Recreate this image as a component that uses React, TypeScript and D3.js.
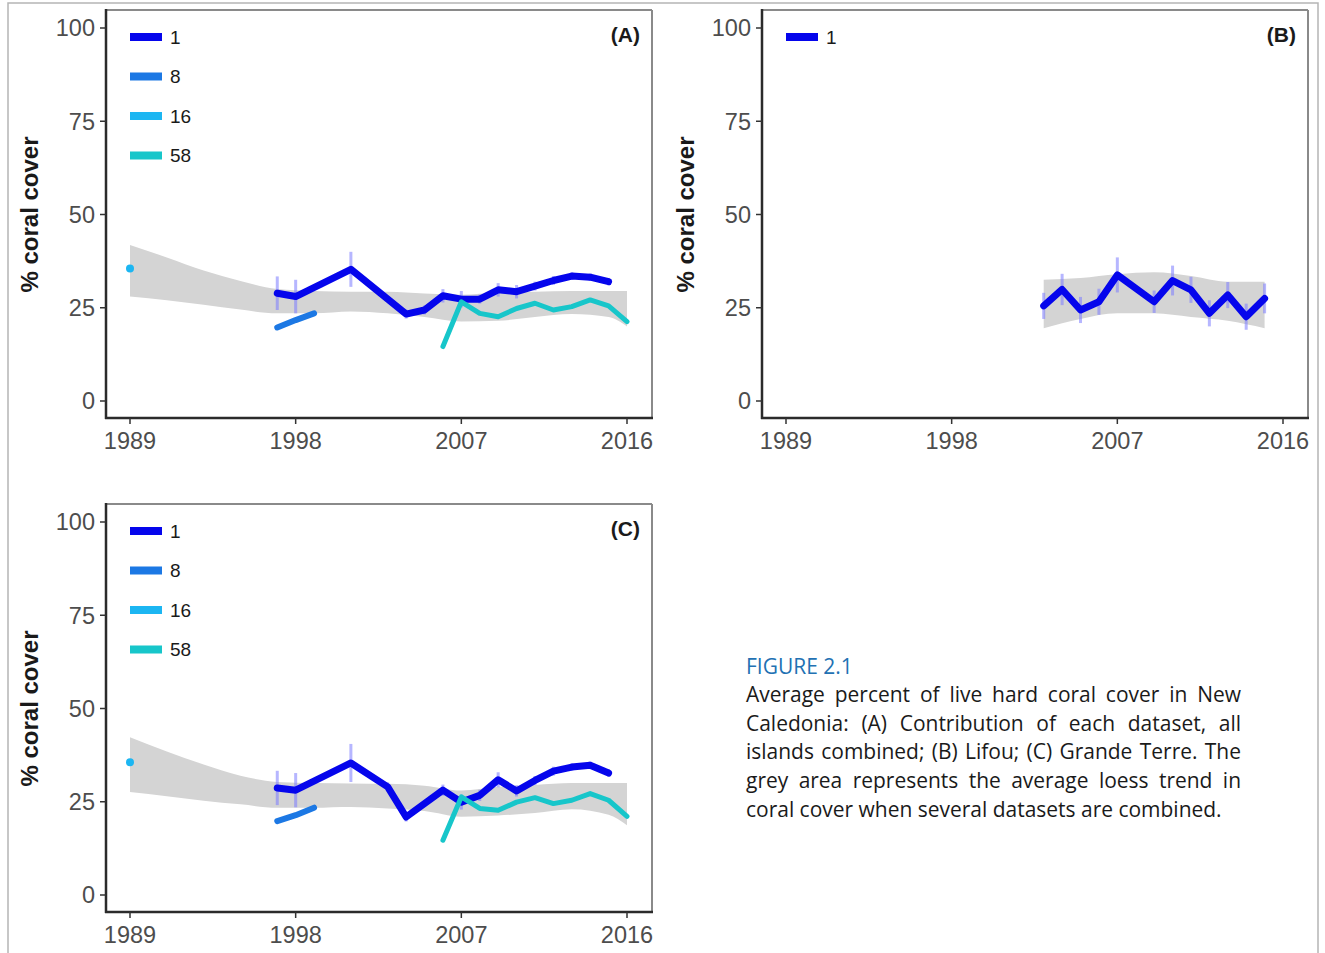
import React from 'react'
import * as d3 from 'd3'

const TICK_YEARS = [1989, 1998, 2007, 2016]
const TICK_COVER = [0, 25, 50, 75, 100]
const LEGEND_KEYS = ['1', '8', '16', '58']
const COLORS: { [k: string]: string } = { '1': '#0505EC', '8': '#1C78E4', '16': '#1CB6F2', '58': '#17C6CA' }

// panel A: all islands
const a1Years = [1997, 1998, 2001, 2004, 2005, 2006, 2007, 2008, 2009, 2010, 2011, 2012, 2013, 2014, 2015]
const a1Cover = [28.9, 28.0, 35.3, 23.3, 24.4, 28.2, 27.3, 27.3, 29.8, 29.3, 30.8, 32.3, 33.5, 33.2, 32.0]
const a1Err = [4.5, 4.5, 4.7, 1.2, 1.2, 1.8, 2.2, 1.2, 1.8, 1.8, 1.2, 1.2, 1, 1, 1]
const a8Years = [1997, 1998, 1999]
const a8Cover = [19.7, 21.7, 23.5]
const a16Years = [1989]
const a16Cover = [35.5]
const a58Years = [2006, 2007, 2008, 2009, 2010, 2011, 2012, 2013, 2014, 2015, 2016]
const a58Cover = [14.6, 26.6, 23.5, 22.6, 24.8, 26.2, 24.4, 25.3, 27.1, 25.5, 21.3]
const aBandYears = [1989, 1991, 1993, 1995, 1997, 1999, 2001, 2003, 2005, 2007, 2009, 2011, 2013, 2015, 2016]
const aBandHi = [41.8, 38.5, 35, 32.2, 30, 29.5, 29.3, 29.3, 28.8, 28.5, 29, 29.3, 29.5, 29.5, 29.5]
const aBandLo = [28, 27, 25.8, 24.5, 23.5, 23.5, 24, 23.5, 22.5, 21.3, 21.5, 22.5, 23.3, 22.5, 20]

// panel B: Lifou
const b1Years = [2003, 2004, 2005, 2006, 2007, 2009, 2010, 2011, 2012, 2013, 2014, 2015]
const b1Cover = [25.5, 29.9, 24.4, 26.6, 33.8, 26.6, 32.3, 29.8, 23.5, 28.4, 22.6, 27.5]
const b1Err = [3.5, 4.2, 3.5, 3.5, 4.7, 3, 4, 3.5, 3.5, 3.5, 3.5, 4]
const bBandYears = [2003, 2005, 2007, 2009, 2011, 2013, 2015]
const bBandHi = [32.5, 33, 34, 34.5, 33.5, 32, 32]
const bBandLo = [19.5, 22, 23.5, 23.5, 22.5, 21.5, 19.5]

// panel C: Grande Terre
const c1Years = [1997, 1998, 2001, 2003, 2004, 2006, 2007, 2008, 2009, 2010, 2011, 2012, 2013, 2014, 2015]
const c1Cover = [28.7, 28.1, 35.4, 29.0, 20.9, 28.1, 24.9, 26.7, 30.9, 27.9, 30.7, 33.2, 34.3, 34.8, 32.7]
const c1Err = [4.6, 4.6, 5.1, 1.2, 1.2, 1.5, 2, 1.5, 2, 1.5, 1.2, 1.2, 1, 1, 1]
const c8Years = [1997, 1998, 1999]
const c8Cover = [19.8, 21.4, 23.4]
const c16Years = [1989]
const c16Cover = [35.6]
const c58Years = [2006, 2007, 2008, 2009, 2010, 2011, 2012, 2013, 2014, 2015, 2016]
const c58Cover = [14.7, 26.3, 23.2, 22.7, 24.9, 26.1, 24.5, 25.4, 27.2, 25.4, 21.1]
const cBandYears = [1989, 1991, 1993, 1995, 1997, 1999, 2001, 2003, 2005, 2007, 2009, 2011, 2013, 2015, 2016]
const cBandHi = [42.3, 38.5, 35, 32, 30.3, 30, 29.9, 29.8, 29.3, 28, 29, 29.5, 30, 30, 30]
const cBandLo = [27.6, 26.5, 25.3, 24.3, 23.4, 23.4, 23.6, 23.2, 22.5, 21, 21.3, 22, 23, 21.5, 18.7]

const CAPTION_TITLE = 'FIGURE 2.1'
const CAPTION_LINES = [
  'Average percent of live hard coral cover in New',
  'Caledonia: (A) Contribution of each dataset, all',
  'islands combined; (B) Lifou; (C) Grande Terre. The',
  'grey area represents the average loess trend in',
  'coral cover when several datasets are combined.',
]

const AXIS_FONT = '"Liberation Sans", Arial, sans-serif'
const CAPTION_FAMILY = '"Open Sans"'

type Series = { key: string; years: number[]; cover: number[]; err?: number[] }

type PanelProps = {
  left: number
  top: number
  tag: string
  legend: string[]
  series: Series[]
  band: { years: number[]; hi: number[]; lo: number[] }
}

function Panel({ left, top, tag, legend, series, band }: PanelProps) {
  const right = left + 546
  const bottom = top + 408
  const x = d3.scaleLinear().domain([1989, 2016]).range([left + 24, right - 25])
  const y = d3.scaleLinear().domain([0, 100]).range([bottom - 17, top + 18])

  const bandData = band.years.map((yr, i) => ({ yr, hi: band.hi[i], lo: band.lo[i] }))
  const areaGen = d3
    .area<{ yr: number; hi: number; lo: number }>()
    .x((d) => x(d.yr))
    .y0((d) => y(d.lo))
    .y1((d) => y(d.hi))
    .curve(d3.curveMonotoneX)

  const lineGen = d3
    .line<[number, number]>()
    .x((d) => x(d[0]))
    .y((d) => y(d[1]))

  const widths: { [k: string]: number } = { '1': 7, '8': 6, '16': 6, '58': 5 }

  return (
    <g>
      {/* frame */}
      <line x1={left} x2={right} y1={top} y2={top} stroke="#8a8a8a" strokeWidth={2} />
      <line x1={right} x2={right} y1={top} y2={bottom} stroke="#8a8a8a" strokeWidth={2} />
      <path d={areaGen(bandData) || ''} fill="#d4d4d4" />

      {/* error bars */}
      {series.map((s) =>
        s.err
          ? s.years.map((yr, i) => (
              <line
                key={s.key + 'e' + i}
                x1={x(yr)}
                x2={x(yr)}
                y1={y(s.cover[i] - s.err![i])}
                y2={y(s.cover[i] + s.err![i])}
                stroke="#7a7aff"
                strokeOpacity={0.55}
                strokeWidth={3}
              />
            ))
          : null
      )}

      {series.map((s) =>
        s.years.length === 1 ? (
          <circle key={s.key} cx={x(s.years[0])} cy={y(s.cover[0])} r={4} fill={COLORS[s.key]} />
        ) : (
          <path
            key={s.key}
            d={lineGen(s.years.map((yr, i) => [yr, s.cover[i]] as [number, number])) || ''}
            fill="none"
            stroke={COLORS[s.key]}
            strokeWidth={widths[s.key]}
            strokeLinejoin="round"
            strokeLinecap="round"
          />
        )
      )}

      {/* axes */}
      <line x1={left} x2={left} y1={top - 1} y2={bottom + 1} stroke="#2b2b2b" strokeWidth={2.5} />
      <line x1={left - 1} x2={right + 1} y1={bottom} y2={bottom} stroke="#2b2b2b" strokeWidth={2.5} />
      {TICK_COVER.map((v) => (
        <g key={'y' + v}>
          <line x1={left - 6} x2={left} y1={y(v)} y2={y(v)} stroke="#333" strokeWidth={1.5} />
          <text
            x={left - 11}
            y={y(v)}
            dy="0.36em"
            textAnchor="end"
            fontSize={23.5}
            fill="#4d4d4d"
            fontFamily={AXIS_FONT}
          >
            {v}
          </text>
        </g>
      ))}
      {TICK_YEARS.map((yr) => (
        <g key={'x' + yr}>
          <line x1={x(yr)} x2={x(yr)} y1={bottom} y2={bottom + 6} stroke="#333" strokeWidth={1.5} />
          <text
            x={x(yr)}
            y={bottom + 31}
            textAnchor="middle"
            fontSize={23.5}
            fill="#4d4d4d"
            fontFamily={AXIS_FONT}
          >
            {yr}
          </text>
        </g>
      ))}
      <text
        transform={`translate(${left - 68},${(y(0) + y(100)) / 2}) rotate(-90)`}
        textAnchor="middle"
        fontSize={24}
        fontWeight="bold"
        fill="#1a1a1a"
        fontFamily={AXIS_FONT}
      >
        % coral cover
      </text>

      {/* legend */}
      {legend.map((k, i) => (
        <g key={'l' + k}>
          <rect x={left + 24} y={top + 23 + i * 39.5} width={32} height={8} fill={COLORS[k]} />
          <text
            x={left + 64}
            y={top + 27 + i * 39.5}
            dy="0.36em"
            fontSize={19}
            fill="#1a1a1a"
            fontFamily={AXIS_FONT}
          >
            {k}
          </text>
        </g>
      ))}
      <text
        x={right - 12}
        y={top + 32}
        textAnchor="end"
        fontSize={21}
        fontWeight="bold"
        fill="#1a1a1a"
        fontFamily={AXIS_FONT}
      >
        {tag}
      </text>
    </g>
  )
}

function measure(text: string, font: string) {
  const ctx = document.createElement('canvas').getContext('2d')
  if (!ctx) return text.length * 9
  ctx.font = font
  return ctx.measureText(text).width
}

function Caption({ x0, y0 }: { x0: number; y0: number }) {
  const width = 495
  // size the font so the (unjustified) last line is as long as in the print
  const lastLine = CAPTION_LINES[CAPTION_LINES.length - 1]
  const size = Math.min(21, (20 * 476) / measure(lastLine, `20px ${CAPTION_FAMILY}`))
  const font = `${size}px ${CAPTION_FAMILY}`
  return (
    <g fontFamily={CAPTION_FAMILY} fontSize={size}>
      <text x={x0} y={y0} fill="#2271b3">
        {CAPTION_TITLE}
      </text>
      {CAPTION_LINES.map((line, li) => {
        const words = line.split(' ')
        const ws = words.map((w) => measure(w, font))
        const total = d3.sum(ws)
        const last = li === CAPTION_LINES.length - 1
        const gap = last ? measure(' ', font) : (width - total) / (words.length - 1)
        let cx = x0
        return (
          <text key={li} y={y0 + 28 + li * 28.7} fill="#1a1a1a">
            {words.map((w, wi) => {
              const px = cx
              cx += ws[wi] + gap
              return (
                <tspan key={wi} x={px}>
                  {w}
                </tspan>
              )
            })}
          </text>
        )
      })}
    </g>
  )
}

export default function App() {
  return (
    <svg
      width={1325}
      height={953}
      style={{ position: 'absolute', left: 0, top: 0, background: '#fff' }}
    >
      <rect x={0} y={0} width={1325} height={953} fill="#fff" />
      <path d="M8,960 L8,3 L1318,3 L1318,960" fill="none" stroke="#b5b5b5" strokeWidth={1.5} />
      <Panel
        left={106}
        top={10}
        tag="(A)"
        legend={LEGEND_KEYS}
        band={{ years: aBandYears, hi: aBandHi, lo: aBandLo }}
        series={[
          { key: '16', years: a16Years, cover: a16Cover },
          { key: '8', years: a8Years, cover: a8Cover },
          { key: '1', years: a1Years, cover: a1Cover, err: a1Err },
          { key: '58', years: a58Years, cover: a58Cover },
        ]}
      />
      <Panel
        left={762}
        top={10}
        tag="(B)"
        legend={['1']}
        band={{ years: bBandYears, hi: bBandHi, lo: bBandLo }}
        series={[{ key: '1', years: b1Years, cover: b1Cover, err: b1Err }]}
      />
      <Panel
        left={106}
        top={504}
        tag="(C)"
        legend={LEGEND_KEYS}
        band={{ years: cBandYears, hi: cBandHi, lo: cBandLo }}
        series={[
          { key: '16', years: c16Years, cover: c16Cover },
          { key: '8', years: c8Years, cover: c8Cover },
          { key: '1', years: c1Years, cover: c1Cover, err: c1Err },
          { key: '58', years: c58Years, cover: c58Cover },
        ]}
      />
      <Caption x0={746} y0={674} />
    </svg>
  )
}
